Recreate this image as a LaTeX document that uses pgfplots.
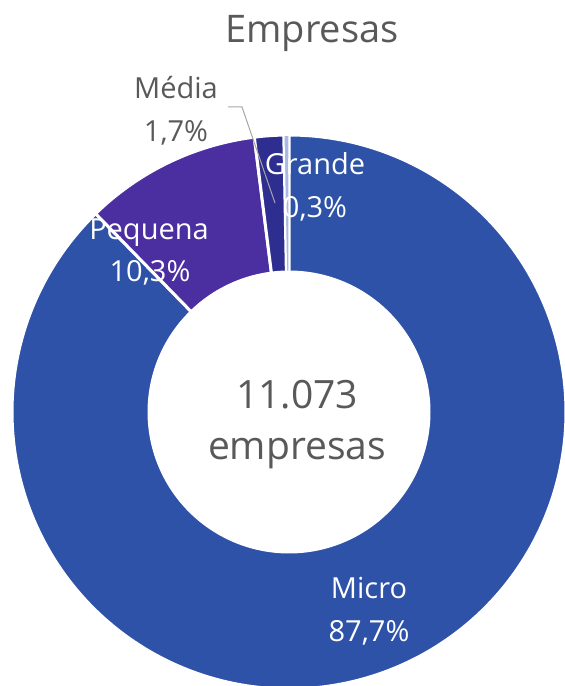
\documentclass[border=0pt]{standalone}
\usepackage{fontspec}
\setmainfont{Open Sans}
\usepackage{pgfplots}
\usepackage{pgfplotstable}
\pgfplotsset{compat=1.18}

\definecolor{cMicro}{HTML}{2E52A8}
\definecolor{cPequena}{HTML}{4B2EA0}
\definecolor{cMedia}{HTML}{2E2E91}
\definecolor{cGrande}{HTML}{A9B9E6}
\definecolor{txtgray}{HTML}{595959}
\definecolor{leadgray}{HTML}{A6A6A6}

% share of companies (%), clockwise from 12 o'clock
\pgfplotstableread{
name     pct
Micro    87.7
Pequena  10.3
Media    1.7
Grande   0.3
}\empresas

\pgfplotstablegetelem{0}{pct}\of\empresas \let\pMicro\pgfplotsretval
\pgfplotstablegetelem{1}{pct}\of\empresas \let\pPequena\pgfplotsretval
\pgfplotstablegetelem{2}{pct}\of\empresas \let\pMedia\pgfplotsretval
\pgfplotstablegetelem{3}{pct}\of\empresas \let\pGrande\pgfplotsretval

\pgfmathsetmacro\aA{90}
\pgfmathsetmacro\aB{\aA-3.6*\pMicro}
\pgfmathsetmacro\aC{\aB-3.6*\pPequena}
\pgfmathsetmacro\aD{\aC-3.6*\pMedia}
\pgfmathsetmacro\aE{\aD-3.6*\pGrande}

\def\cx{289}
\def\cy{274}
\def\R{277}
\def\r{141.5}

\begin{document}
\begin{tikzpicture}
\begin{axis}[
    width=565pt, height=686pt,
    scale only axis,
    xmin=0, xmax=565, ymin=0, ymax=686,
    hide axis,
    clip=true,
]
\addplot[fill=cMicro, draw=white, line width=3pt, domain=\aB:\aA, samples=240, variable=\t]
    ({\cx+\R*cos(\t)},{\cy+\R*sin(\t)}) -- (axis cs:\cx,\cy) -- cycle;
\addplot[fill=cPequena, draw=white, line width=3pt, domain=\aC:\aB, samples=60, variable=\t]
    ({\cx+\R*cos(\t)},{\cy+\R*sin(\t)}) -- (axis cs:\cx,\cy) -- cycle;
\addplot[fill=cMedia, draw=white, line width=3pt, domain=\aD:\aC, samples=12, variable=\t]
    ({\cx+\R*cos(\t)},{\cy+\R*sin(\t)}) -- (axis cs:\cx,\cy) -- cycle;
\addplot[fill=cGrande, draw=white, line width=1.5pt, domain=\aE:\aD, samples=4, variable=\t]
    ({\cx+\R*cos(\t)},{\cy+\R*sin(\t)}) -- (axis cs:\cx,\cy) -- cycle;
% hole
\addplot[fill=white, draw=none, domain=0:360, samples=240, variable=\t]
    ({\cx+\r*cos(\t)},{\cy+\r*sin(\t)}) -- cycle;

% leader line for Média
\draw[leadgray, line width=1pt] (axis cs:228,579) -- (axis cs:242,579) -- (axis cs:275,483);

% title
\node[anchor=base, text=txtgray, font=\fontsize{38}{46}\selectfont] at (axis cs:312,643) {Empresas};
% centre
\node[anchor=base, text=txtgray, font=\fontsize{39}{47}\selectfont] at (axis cs:297,277) {11.073};
\node[anchor=base, text=txtgray, font=\fontsize{39}{47}\selectfont] at (axis cs:297,226) {empresas};
% slice labels
\node[anchor=base, text=white, font=\fontsize{29}{35}\selectfont] at (axis cs:369,87) {Micro};
\node[anchor=base, text=white, font=\fontsize{29}{35}\selectfont] at (axis cs:369,44) {87,7\%};
\node[anchor=base, text=white, font=\fontsize{29}{35}\selectfont] at (axis cs:149,446) {Pequena};
\node[anchor=base, text=white, font=\fontsize{29}{35}\selectfont] at (axis cs:150,404) {10,3\%};
\node[anchor=base, text=white, font=\fontsize{29}{35}\selectfont] at (axis cs:315,511) {Grande};
\node[anchor=base, text=white, font=\fontsize{29}{35}\selectfont] at (axis cs:315,468) {0,3\%};
\node[anchor=base, text=txtgray, font=\fontsize{29}{35}\selectfont] at (axis cs:176,587) {Média};
\node[anchor=base, text=txtgray, font=\fontsize{29}{35}\selectfont] at (axis cs:176,544) {1,7\%};
\end{axis}
\pgfresetboundingbox
\path (current axis.south west) rectangle (current axis.north east);
\end{tikzpicture}
\end{document}
